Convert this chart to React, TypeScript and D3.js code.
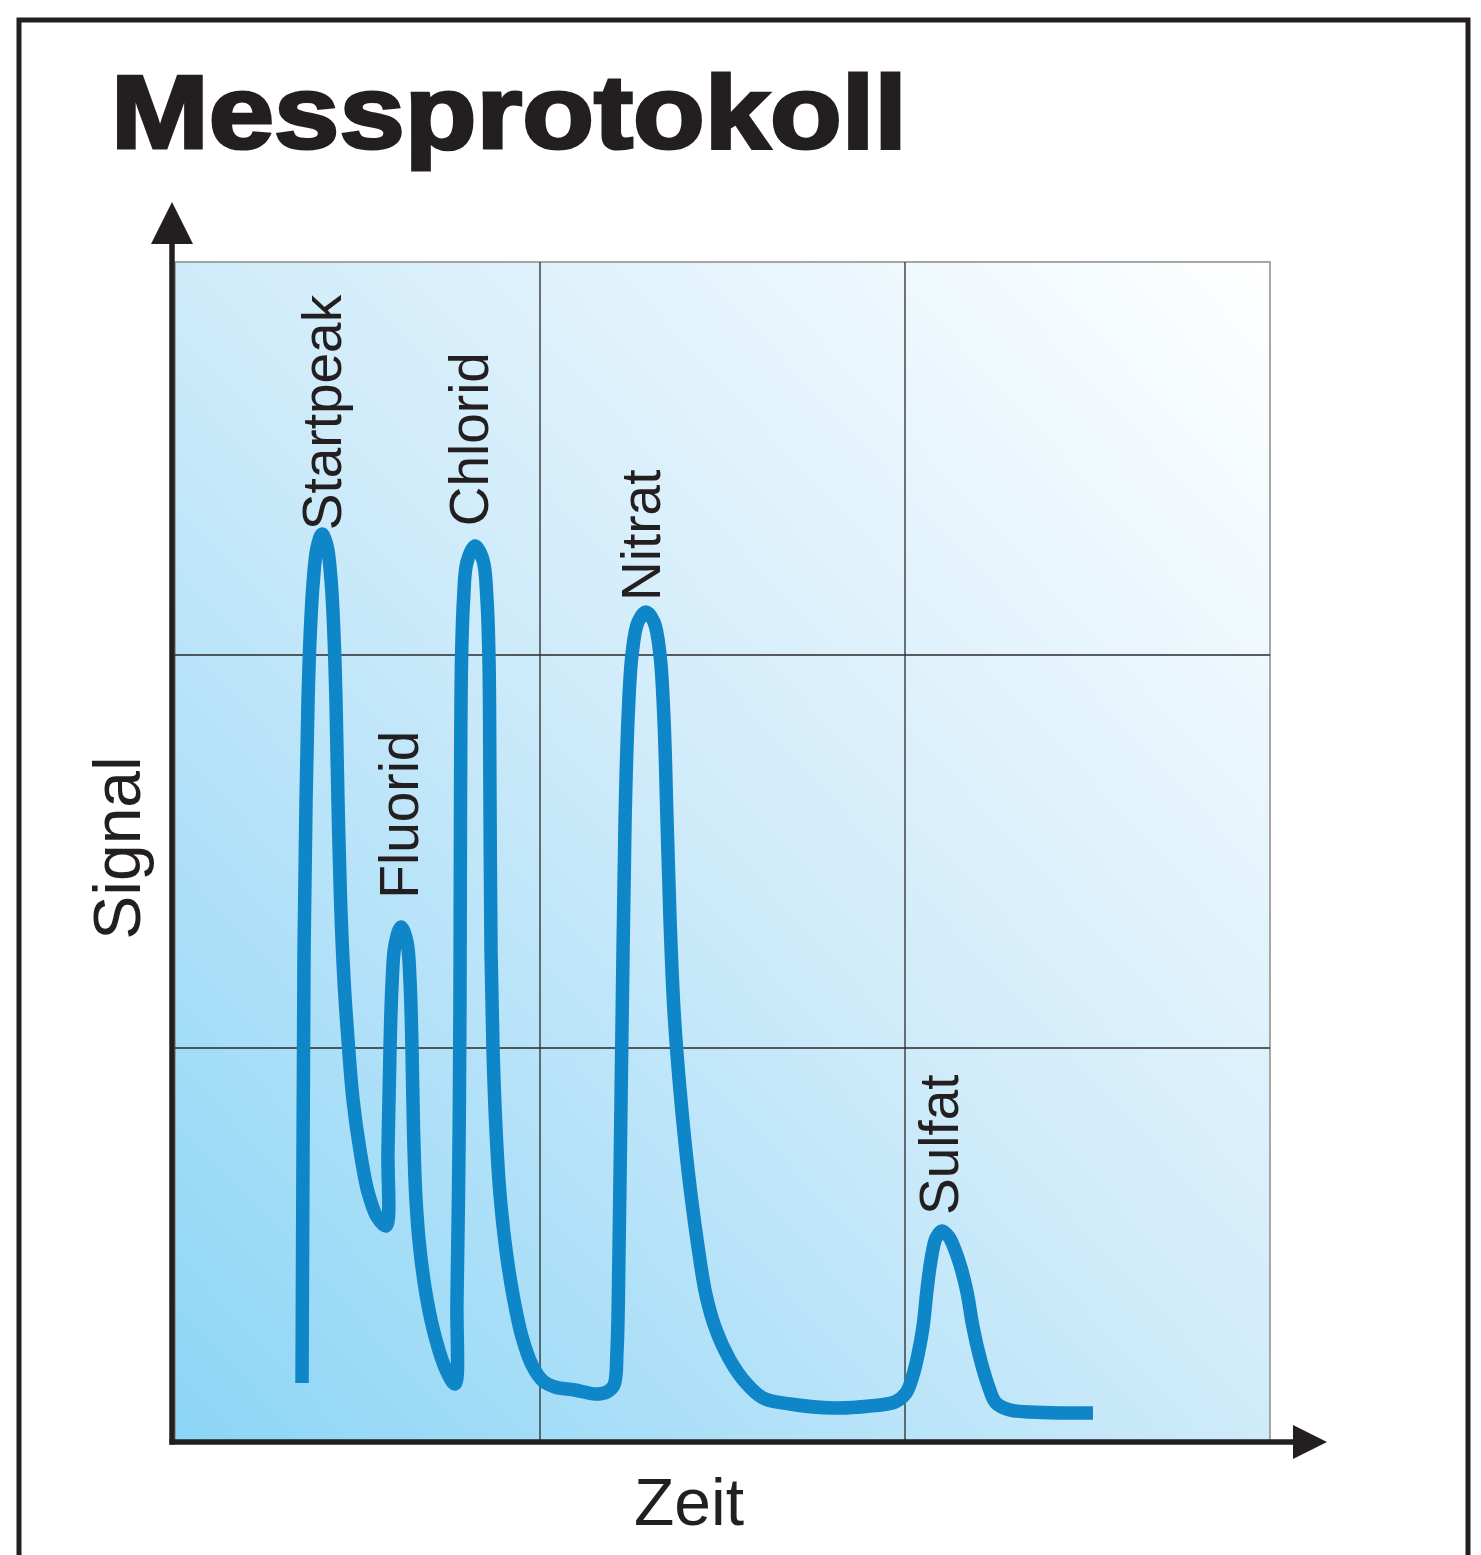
import React from 'react';
import * as d3 from 'd3';

const W = 1481;
const H = 1555;
// plot box (the blue area)
const left = 175;
const right = 1270;
const top = 262;
const bottom = 1441;

const ink = '#231f20';
const lineBlue = '#0e86c8';
const font = '"Liberation Sans", Arial, Helvetica, sans-serif';

// time in minutes, signal in arbitrary units
const timeTicks = [0, 4, 8, 12];
const signalTicks = [0, 40, 80, 120];

const chromTime = [
  // start peak
  1.392, 1.403, 1.414, 1.436, 1.458, 1.479, 1.512, 1.556, 1.611, 1.666,
  1.71, 1.742, 1.764, 1.786, 1.814, 1.852, 1.896, 1.951, 2.027, 2.115,
  2.214, 2.312,
  // fluorid
  2.334, 2.356, 2.378, 2.411, 2.477, 2.542, 2.575, 2.597, 2.614, 2.641,
  2.685, 2.762, 2.86, 2.97, 3.068,
  // chlorid
  3.09, 3.112, 3.123, 3.129, 3.14, 3.162, 3.2, 3.288, 3.375, 3.419,
  3.441, 3.452, 3.463, 3.485, 3.518, 3.562, 3.627, 3.704, 3.803, 3.912,
  4.033, 4.164, 4.384, 4.603, 4.734, 4.811,
  // nitrat
  4.844, 4.866, 4.888, 4.91, 4.932, 4.964, 5.008, 5.074, 5.162, 5.249,
  5.315, 5.359, 5.392, 5.425, 5.468, 5.534, 5.622, 5.721, 5.819, 5.929,
  6.082, 6.258, 6.444, 6.74, 7.233, 7.616, 7.89, 8.011,
  // sulfat
  8.088, 8.142, 8.197, 8.241, 8.285, 8.34, 8.405, 8.482, 8.548, 8.614,
  8.679, 8.745, 8.822, 8.91, 8.997, 9.151, 9.37, 9.699, 10.06,
];
const chromSignal = [
  5.9, 29.62, 49.97, 65.24, 75.42, 81.53, 87.12, 90.89, 92.31, 91.09,
  87.63, 82.04, 75.42, 65.24, 55.06, 46.92, 40.81, 34.71, 29.62, 25.34,
  22.8, 21.89,
  29.62, 39.8, 46.41, 50.48, 52.32, 50.79, 46.92, 40.0, 31.65, 24.53,
  19.44, 14.35, 10.28, 7.23, 5.8,
  14.35, 29.62, 44.89, 65.24, 79.49, 85.6, 89.46, 91.09, 89.67, 85.6,
  79.49, 65.24, 49.97, 39.8, 31.65, 25.04, 19.44, 14.86, 10.59, 7.74,
  6.11, 5.5, 5.19, 4.78, 4.99, 5.7,
  9.26, 19.44, 34.71, 49.97, 63.21, 73.38, 80.0, 83.36, 84.38, 83.36,
  80.0, 73.38, 63.21, 53.03, 43.87, 35.73, 27.58, 20.46, 14.86, 11.3,
  8.24, 5.9, 4.38, 3.77, 3.36, 3.56, 3.97, 4.89,
  6.72, 8.75, 11.6, 15.37, 18.42, 20.66, 21.37, 20.76, 19.44, 17.61,
  15.17, 11.6, 8.45, 5.7, 3.87, 3.16, 2.95, 2.85, 2.85,
];

// peak names and where their labels sit (time, signal)
const peakNames = ['Startpeak', 'Fluorid', 'Chlorid', 'Nitrat', 'Sulfat'];
const labelTime = [1.819, 2.663, 3.43, 5.315, 8.581];
const labelSignal = [92.7, 55.2, 93.1, 85.5, 23.0];

export default function App() {
  const x = d3.scaleLinear().domain([0, 12]).range([left, right]);
  const y = d3.scaleLinear().domain([0, 120]).range([bottom, top]);

  const pts: [number, number][] = chromTime.map((t, i) => [t, chromSignal[i]]);
  const line = d3
    .line<[number, number]>()
    .x((d) => x(d[0]))
    .y((d) => y(d[1]))
    .curve(d3.curveCatmullRom.alpha(0.5));

  const axisX = 172;
  const axisY = 1442;

  return (
    <svg
      width={W}
      height={H}
      style={{ position: 'absolute', left: 0, top: 0 }}
      fontFamily={font}
    >
      <defs>
        <linearGradient id="bg" x1="0" y1="1" x2="1" y2="0">
          <stop offset="0" stopColor="#8cd5f6" />
          <stop offset="0.5" stopColor="#cfebfa" />
          <stop offset="1" stopColor="#ffffff" />
        </linearGradient>
      </defs>
      <rect width={W} height={H} fill="#fff" />

      {/* outer frame, runs past the bottom edge */}
      <rect x={19} y={20} width={1449} height={1600} fill="none" stroke={ink} strokeWidth={5} />

      <text
        x={111}
        y={148}
        fontSize={104}
        fontWeight={700}
        fill={ink}
        stroke={ink}
        strokeWidth={3.2}
        textLength={796}
        lengthAdjust="spacingAndGlyphs"
      >
        Messprotokoll
      </text>

      {/* plot background */}
      <rect x={left} y={top} width={right - left} height={bottom - top} fill="url(#bg)" />
      <rect x={left} y={top} width={right - left} height={bottom - top} fill="none" stroke="#8a8a8a" strokeWidth={1.5} />

      {/* grid */}
      {timeTicks.slice(1, -1).map((t) => (
        <line key={'gx' + t} x1={x(t)} x2={x(t)} y1={top} y2={bottom} stroke="#2a2a2a" strokeWidth={1.3} />
      ))}
      {signalTicks.slice(1, -1).map((s) => (
        <line key={'gy' + s} x1={left} x2={right} y1={y(s)} y2={y(s)} stroke="#2a2a2a" strokeWidth={1.3} />
      ))}

      {/* chromatogram */}
      <path
        d={line(pts) || ''}
        fill="none"
        stroke={lineBlue}
        strokeWidth={13.5}
        strokeLinecap="butt"
        strokeLinejoin="miter"
      />

      {/* peak labels */}
      {peakNames.map((name, i) => (
        <text
          key={name}
          transform={`translate(${x(labelTime[i])},${y(labelSignal[i])}) rotate(-90)`}
          fontSize={55}
          fill={ink}
        >
          {name}
        </text>
      ))}

      {/* axes with arrow heads */}
      <line x1={axisX} x2={axisX} y1={axisY + 2.5} y2={240} stroke={ink} strokeWidth={5.5} />
      <path d={`M${axisX},202 L${axisX + 21},244 L${axisX - 21},244 Z`} fill={ink} />
      <line x1={axisX - 2.5} x2={1296} y1={axisY} y2={axisY} stroke={ink} strokeWidth={5.5} />
      <path d={`M1327,${axisY} L1293,${axisY - 17} L1293,${axisY + 17} Z`} fill={ink} />

      <text
        transform={`translate(140,848) rotate(-90)`}
        fontSize={66}
        textAnchor="middle"
        fill={ink}
      >
        Signal
      </text>
      <text x={689} y={1525} fontSize={66} textAnchor="middle" fill={ink}>
        Zeit
      </text>
    </svg>
  );
}
